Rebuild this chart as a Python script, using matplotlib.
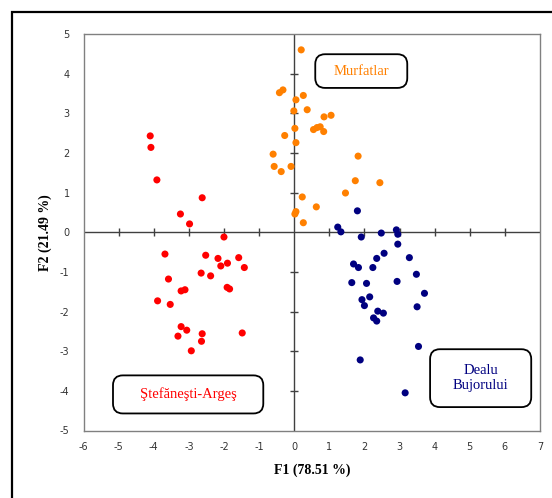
import numpy as np
import matplotlib
matplotlib.use("Agg")
import matplotlib.pyplot as plt
from matplotlib.patches import FancyBboxPatch, Rectangle

# ---- data ----
red_x = [-4.10, -4.08, -3.91, -2.62, -3.24, -2.98, -2.00, -3.68, -2.52, -2.17,
         -1.58, -1.90, -2.09, -1.42, -2.65, -2.38, -3.58, -3.22, -3.11, -1.91,
         -1.84, -3.89, -3.53, -3.22, -3.06, -3.31, -2.62, -1.48, -2.64, -2.93]
red_y = [2.43, 2.14, 1.32, 0.87, 0.46, 0.21, -0.12, -0.55, -0.58, -0.66,
         -0.64, -0.78, -0.85, -0.89, -1.03, -1.10, -1.18, -1.48, -1.45, -1.39,
         -1.43, -1.73, -1.82, -2.38, -2.47, -2.62, -2.56, -2.54, -2.75, -2.99]

orange_x = [0.20, -0.42, -0.32, 0.26, 0.05, -0.01, 0.37, 0.85, 1.05, 0.02,
            0.55, 0.65, 0.74, 0.84, -0.27, 0.05, -0.60, 1.82, -0.57, -0.37,
            -0.09, 1.74, 2.44, 1.46, 0.23, 0.63, 0.05, 0.02, 0.26]
orange_y = [4.60, 3.52, 3.59, 3.45, 3.34, 3.06, 3.09, 2.91, 2.95, 2.62,
            2.59, 2.64, 2.66, 2.54, 2.44, 2.26, 1.97, 1.92, 1.66, 1.53,
            1.66, 1.30, 1.25, 0.99, 0.89, 0.64, 0.52, 0.46, 0.24]

blue_x = [1.80, 1.24, 1.33, 1.91, 2.48, 2.91, 2.95, 2.95, 2.56, 2.35,
          3.28, 1.69, 1.83, 2.24, 3.48, 1.64, 2.06, 2.93, 3.71, 1.93,
          2.15, 2.00, 3.50, 2.38, 2.54, 2.26, 2.35, 3.54, 1.88, 3.16]
blue_y = [0.54, 0.13, 0.01, -0.12, -0.02, 0.06, -0.05, -0.30, -0.53, -0.66,
          -0.64, -0.80, -0.89, -0.89, -1.06, -1.27, -1.29, -1.24, -1.54, -1.70,
          -1.63, -1.85, -1.88, -1.99, -2.04, -2.16, -2.24, -2.88, -3.22, -4.05]

group_names = ["Ştefăneşti-Argeş", "Murfatlar", "Dealu\nBujorului"]
group_colors = ["#FF0000", "#FF8000", "#000080"]

x_ticks = list(range(-6, 8))
y_ticks = list(range(-5, 6))
x_label = "F1 (78.51 %)"
y_label = "F2 (21.49 %)"

# ---- figure ----
W, H = 552, 498
fig = plt.figure(figsize=(W / 100, H / 100), dpi=100)
fig.patch.set_facecolor("white")

left_px, right_px, top_px, bot_px = 83.5, 540, 34, 430.5
ax = fig.add_axes([left_px / W, 1 - bot_px / H,
                   (right_px - left_px) / W, (bot_px - top_px) / H])

ax.set_xlim(x_ticks[0], x_ticks[-1])
ax.set_ylim(y_ticks[0], y_ticks[-1])

for s in ax.spines.values():
    s.set_color("#808080")
    s.set_linewidth(1.0)

ax.set_xticks(x_ticks)
ax.set_yticks(y_ticks)
ax.set_xticklabels([str(t) for t in x_ticks])
ax.set_yticklabels([str(t) for t in y_ticks])
ax.tick_params(axis="both", length=0, labelsize=7, colors="#333333")
ax.tick_params(axis="x", pad=8)
ax.tick_params(axis="y", pad=10)

# internal axes through origin with crossing tick marks
ax.axhline(0, color="#404040", lw=1.0, zorder=1)
ax.axvline(0, color="#404040", lw=1.0, zorder=1)
xt = [t for t in x_ticks if t not in (x_ticks[0], x_ticks[-1], 0)]
yt = [t for t in y_ticks if t not in (y_ticks[0], y_ticks[-1], 0)]
ax.plot(xt, np.zeros(len(xt)), ls="none", marker="|", ms=6, mew=1.0,
        color="#404040", zorder=1)
ax.plot(np.zeros(len(yt)), yt, ls="none", marker="_", ms=6, mew=1.0,
        color="#404040", zorder=1)

# points
for xs, ys, c in [(red_x, red_y, group_colors[0]),
                  (orange_x, orange_y, group_colors[1]),
                  (blue_x, blue_y, group_colors[2])]:
    ax.scatter(xs, ys, s=26, color=c, edgecolors="none", zorder=3)

# labelled boxes (data-space outlines)
px_x = (x_ticks[-1] - x_ticks[0]) / (right_px - left_px)
px_y = (y_ticks[-1] - y_ticks[0]) / (bot_px - top_px)
aspect = px_y / px_x
boxes = [(-5.16, -4.57, 4.28, 0.96),   # Stefanesti
         (0.60, 3.64, 2.62, 0.85),     # Murfatlar
         (3.87, -4.41, 2.88, 1.46)]    # Dealu
for (bx, by, bw, bh), name, col in zip(boxes, group_names, group_colors):
    p = FancyBboxPatch((bx, by), bw, bh,
                       boxstyle="round,pad=0,rounding_size=0.28",
                       mutation_aspect=aspect,
                       facecolor="white", edgecolor="black", lw=1.3, zorder=4)
    ax.add_patch(p)
    ax.text(bx + bw / 2, by + bh / 2, name, ha="center", va="center",
            color=col, fontsize=10.5, family="Liberation Serif",
            linespacing=1.15, zorder=5)

# axis titles
fig.text(312 / W, 1 - 470 / H, x_label, ha="center", va="center",
         fontsize=10, fontweight="bold", family="Liberation Serif")
fig.text(45 / W, 1 - 233 / H, y_label, ha="center", va="center",
         rotation=90, fontsize=10, fontweight="bold", family="Liberation Serif")

# outer frame (extends beyond the image on right and bottom)
fig.add_artist(Rectangle((12 / W, -0.1), 1.2, 1 - 12 / H + 0.1,
                         transform=fig.transFigure, fill=False,
                         edgecolor="black", lw=1.6))

fig.savefig("out.png", dpi=100)
